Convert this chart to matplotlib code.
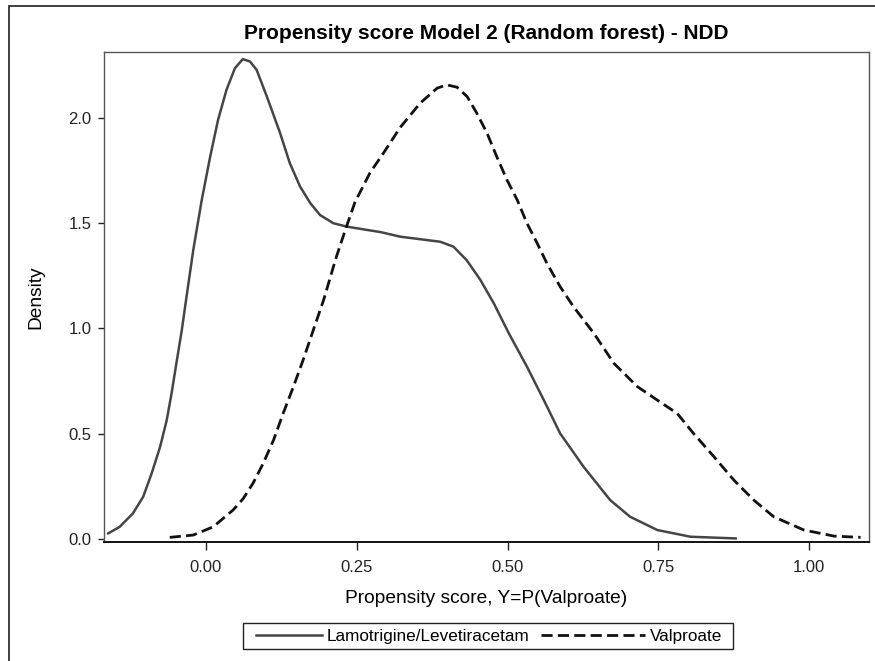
import matplotlib
matplotlib.use("Agg")
import matplotlib.pyplot as plt
from matplotlib.patches import Rectangle

plt.rcParams['font.family'] = ['Liberation Sans', 'DejaVu Sans']

# densité (Lamotrigine/Levetiracetam)
lam_x = [-0.162, -0.143, -0.121, -0.104, -0.090, -0.076, -0.065, -0.057, -0.049,
         -0.040, -0.033, -0.021, -0.007, 0.007, 0.020, 0.034, 0.048, 0.061, 0.073,
         0.084, 0.101, 0.123, 0.139, 0.156, 0.173, 0.189, 0.211, 0.233, 0.267,
         0.289, 0.322, 0.344, 0.388, 0.410, 0.432, 0.455, 0.477, 0.502, 0.532,
         0.560, 0.587, 0.626, 0.670, 0.703, 0.748, 0.803, 0.878]
lam_y = [0.027, 0.058, 0.122, 0.201, 0.312, 0.438, 0.565, 0.692, 0.835,
         0.993, 1.135, 1.373, 1.610, 1.816, 1.990, 2.133, 2.236, 2.279, 2.268,
         2.228, 2.101, 1.927, 1.785, 1.674, 1.595, 1.539, 1.500, 1.484, 1.468,
         1.458, 1.436, 1.428, 1.412, 1.389, 1.325, 1.230, 1.120, 0.977, 0.819,
         0.660, 0.502, 0.343, 0.185, 0.106, 0.043, 0.011, 0.003]

# Valproate
val_x = [-0.060, -0.021, 0.012, 0.045, 0.062, 0.078, 0.095, 0.112, 0.128, 0.145,
         0.161, 0.178, 0.195, 0.215, 0.231, 0.247, 0.272, 0.294, 0.322, 0.355,
         0.383, 0.399, 0.416, 0.433, 0.449, 0.466, 0.482, 0.499, 0.516, 0.532,
         0.549, 0.565, 0.587, 0.609, 0.643, 0.676, 0.715, 0.748, 0.781, 0.808,
         0.842, 0.875, 0.908, 0.941, 0.991, 1.041, 1.085]
val_y = [0.008, 0.019, 0.058, 0.138, 0.193, 0.265, 0.360, 0.470, 0.597, 0.724,
         0.850, 0.993, 1.135, 1.330, 1.468, 1.600, 1.740, 1.832, 1.955, 2.070,
         2.141, 2.157, 2.146, 2.101, 2.022, 1.927, 1.816, 1.705, 1.610, 1.500,
         1.405, 1.310, 1.199, 1.104, 0.977, 0.835, 0.724, 0.660, 0.597, 0.502,
         0.391, 0.280, 0.185, 0.106, 0.043, 0.014, 0.008]

x_ticks = [0.00, 0.25, 0.50, 0.75, 1.00]
y_ticks = [0.0, 0.5, 1.0, 1.5, 2.0]

fig = plt.figure(figsize=(8.75, 6.61), dpi=100)
ax = fig.add_axes([104 / 875, 119 / 661, 765 / 875, 490 / 661])

lam_line, = ax.plot(lam_x, lam_y, color='#454545', lw=1.8,
                    solid_joinstyle='round', label='Lamotrigine/Levetiracetam')
val_line, = ax.plot(val_x, val_y, color='#111111', lw=2.0, dashes=(4, 1.9),
                    label='Valproate')

ax.set_xlim(-0.169, 1.099)
ax.set_ylim(-0.014, 2.313)
ax.set_xticks(x_ticks)
ax.set_xticklabels([f'{t:.2f}' for t in x_ticks])
ax.set_yticks(y_ticks)
ax.set_yticklabels([f'{t:.1f}' for t in y_ticks])
ax.tick_params(axis='x', direction='out', length=6, width=1, pad=7,
               labelsize=12, colors='#222222')
ax.tick_params(axis='y', direction='out', length=4, width=1, pad=5,
               labelsize=12, colors='#222222')

for side in ['top', 'right', 'left']:
    ax.spines[side].set_color('#555555')
    ax.spines[side].set_linewidth(1.0)
ax.spines['bottom'].set_color('#111111')
ax.spines['bottom'].set_linewidth(1.4)

ax.set_title('Propensity score Model 2 (Random forest) - NDD',
             fontsize=15, fontweight='bold', pad=9.5)
ax.set_xlabel('Propensity score, Y=P(Valproate)', fontsize=13.8, labelpad=11)
ax.set_ylabel('Density', fontsize=13.8, labelpad=17)

# légende : deux entrées posées à la main + un cadre
leg_y = (661 - 636) / 661
leg1 = fig.legend(handles=[lam_line], loc='center left',
                  bbox_to_anchor=(256 / 875, leg_y), frameon=False, fontsize=12.3,
                  borderpad=0, borderaxespad=0, handlelength=3.86,
                  handletextpad=0.3)
leg2 = fig.legend(handles=[val_line], loc='center left',
                  bbox_to_anchor=(541 / 875, leg_y), frameon=False, fontsize=12.3,
                  borderpad=0, borderaxespad=0, handlelength=6.1,
                  handletextpad=0.3)
fig.patches.append(Rectangle((243 / 875, (661 - 649) / 661), 490 / 875, 26 / 661,
                             transform=fig.transFigure, fill=False,
                             edgecolor='#222222', linewidth=1.0))

# cadre extérieur
fig.patches.append(Rectangle((9 / 875, -0.02), 1.0, (655 / 661) + 0.02,
                             transform=fig.transFigure, fill=False,
                             edgecolor='#333333', linewidth=1.3))

fig.savefig('out.png', dpi=100)
